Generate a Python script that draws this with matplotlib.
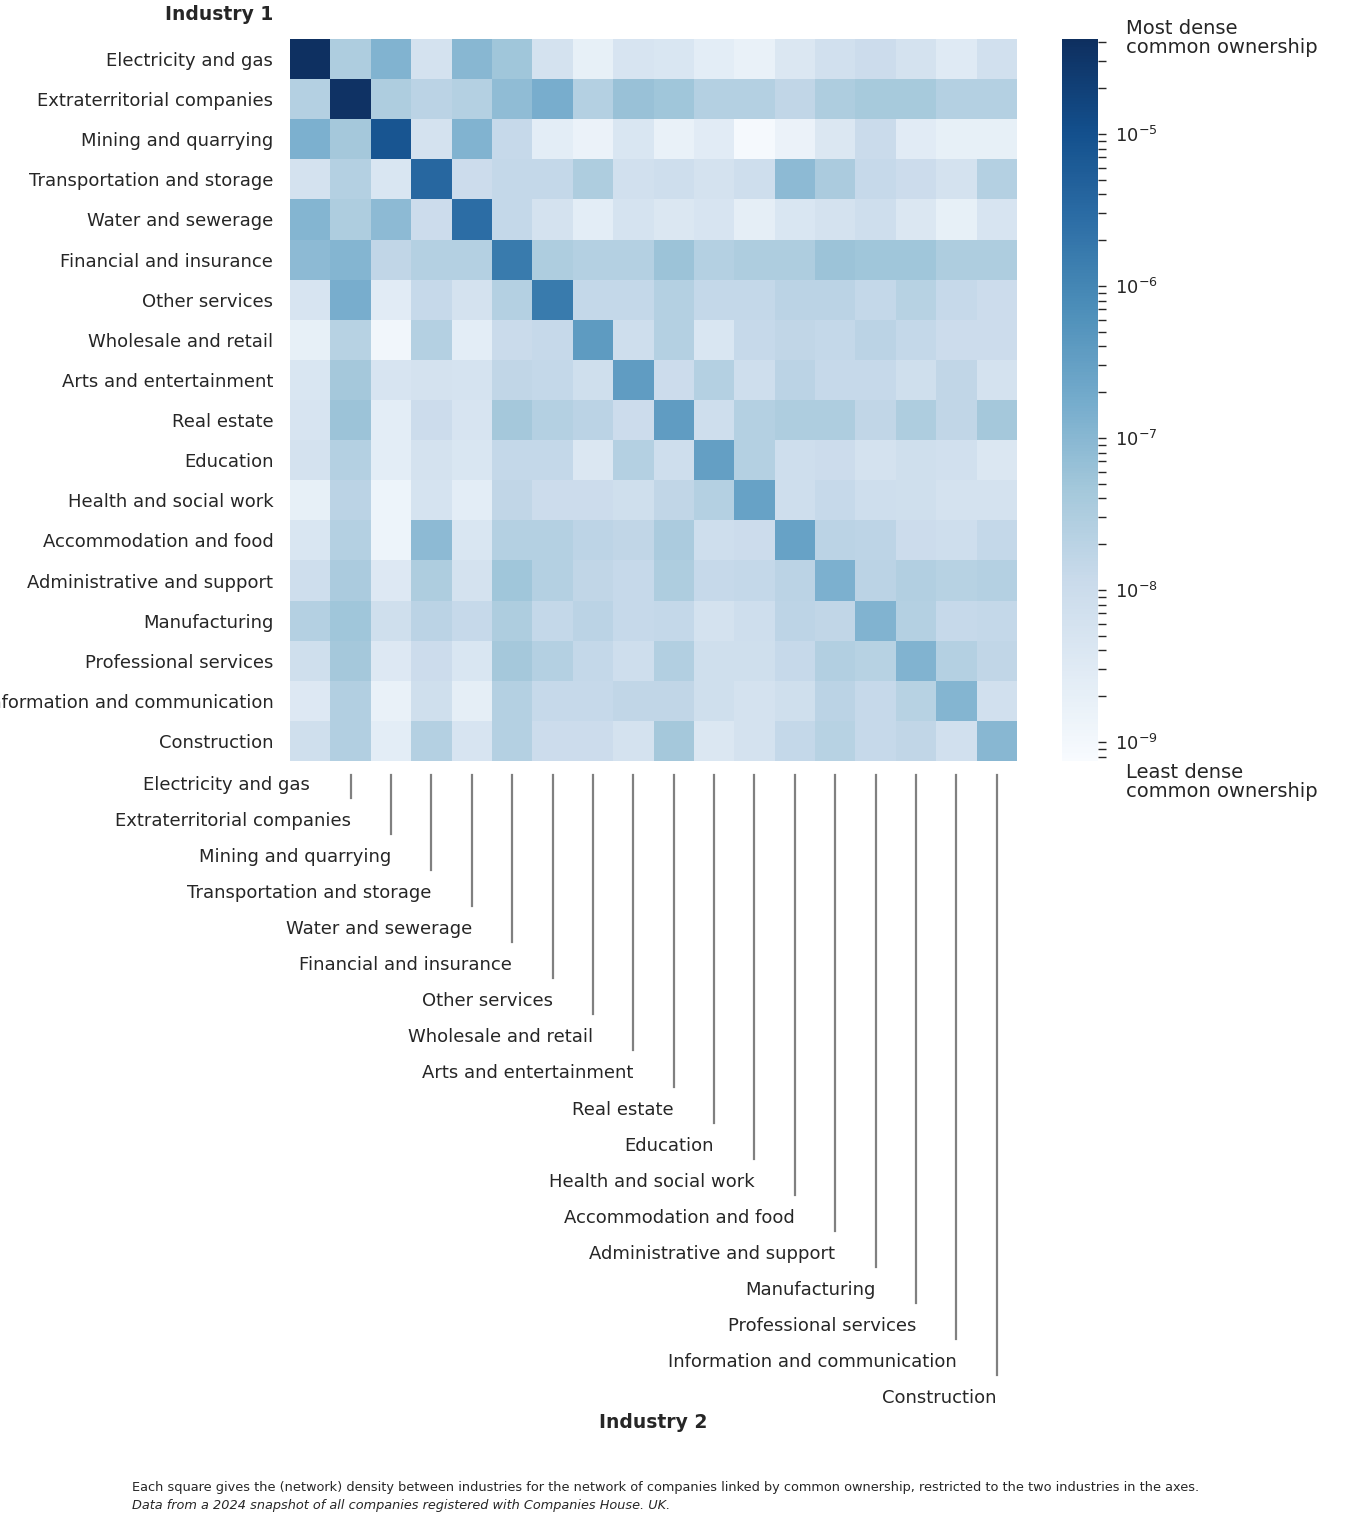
import numpy as np
import matplotlib.pyplot as plt
from matplotlib.colors import LogNorm, ListedColormap
from matplotlib.lines import Line2D
from matplotlib.transforms import blended_transform_factory

industries = [
    "Electricity and gas", "Extraterritorial companies", "Mining and quarrying",
    "Transportation and storage", "Water and sewerage", "Financial and insurance",
    "Other services", "Wholesale and retail", "Arts and entertainment",
    "Real estate", "Education", "Health and social work",
    "Accommodation and food", "Administrative and support", "Manufacturing",
    "Professional services", "Information and communication", "Construction",
]

log_density = [
    [-4.4, -7.5, -6.9, -8.2, -7.0, -7.3, -8.2, -8.7, -8.3, -8.35, -8.6, -8.75, -8.4, -8.15, -8.0, -8.2, -8.5, -8.15],
    [-7.6, -4.45, -7.5, -7.7, -7.6, -7.1, -6.8, -7.6, -7.2, -7.3, -7.6, -7.6, -7.8, -7.5, -7.4, -7.4, -7.6, -7.6],
    [-6.85, -7.35, -5.1, -8.2, -6.9, -7.9, -8.6, -8.8, -8.35, -8.75, -8.55, -9.05, -8.8, -8.4, -7.95, -8.55, -8.7, -8.7],
    [-8.2, -7.6, -8.35, -5.45, -8.0, -7.85, -7.85, -7.5, -8.15, -8.05, -8.2, -8.05, -7.05, -7.45, -7.9, -8.0, -8.2, -7.6],
    [-6.95, -7.5, -7.05, -8.0, -5.55, -7.85, -8.2, -8.6, -8.25, -8.4, -8.3, -8.65, -8.35, -8.2, -8.05, -8.4, -8.7, -8.3],
    [-7.05, -6.95, -7.8, -7.6, -7.6, -5.8, -7.5, -7.6, -7.6, -7.25, -7.6, -7.5, -7.5, -7.25, -7.3, -7.3, -7.5, -7.5],
    [-8.3, -6.8, -8.55, -7.9, -8.2, -7.6, -5.8, -7.85, -7.85, -7.6, -7.85, -7.85, -7.7, -7.7, -7.85, -7.65, -7.9, -8.0],
    [-8.7, -7.65, -8.95, -7.6, -8.6, -7.95, -7.9, -6.4, -8.05, -7.6, -8.35, -7.9, -7.8, -7.85, -7.7, -7.85, -8.0, -8.0],
    [-8.35, -7.35, -8.3, -8.2, -8.25, -7.8, -7.85, -8.1, -6.45, -8.0, -7.6, -8.05, -7.7, -7.9, -7.9, -8.1, -7.8, -8.2],
    [-8.3, -7.25, -8.6, -8.0, -8.3, -7.35, -7.6, -7.7, -8.0, -6.45, -8.05, -7.6, -7.5, -7.5, -7.8, -7.5, -7.8, -7.35],
    [-8.2, -7.6, -8.6, -8.2, -8.35, -7.85, -7.85, -8.4, -7.6, -8.05, -6.5, -7.6, -8.05, -8.0, -8.2, -8.1, -8.15, -8.4],
    [-8.7, -7.7, -8.85, -8.25, -8.6, -7.8, -8.0, -8.0, -8.1, -7.8, -7.6, -6.55, -8.05, -7.9, -8.05, -8.1, -8.2, -8.2],
    [-8.35, -7.6, -8.85, -7.05, -8.35, -7.6, -7.6, -7.75, -7.8, -7.45, -8.05, -8.0, -6.55, -7.7, -7.75, -8.0, -8.05, -7.85],
    [-8.05, -7.45, -8.45, -7.5, -8.2, -7.3, -7.6, -7.8, -7.9, -7.5, -7.9, -7.85, -7.7, -6.85, -7.7, -7.55, -7.65, -7.6],
    [-7.6, -7.3, -8.1, -7.7, -7.9, -7.5, -7.85, -7.7, -7.9, -7.85, -8.2, -8.05, -7.75, -7.8, -6.9, -7.6, -7.9, -7.85],
    [-8.1, -7.35, -8.45, -8.0, -8.35, -7.35, -7.6, -7.85, -8.05, -7.55, -8.1, -8.1, -7.9, -7.55, -7.65, -6.9, -7.6, -7.8],
    [-8.45, -7.55, -8.75, -8.1, -8.65, -7.6, -7.9, -7.9, -7.8, -7.8, -8.1, -8.2, -8.1, -7.7, -7.9, -7.65, -6.95, -8.15],
    [-8.1, -7.55, -8.6, -7.6, -8.3, -7.6, -8.0, -8.0, -8.2, -7.35, -8.4, -8.2, -7.85, -7.65, -7.9, -7.8, -8.15, -7.0],
]

VMIN = 7.5e-10
VMAX = 4.2e-5

TEXT = '0.15'
plt.rcParams['font.family'] = ['DejaVu Sans']
plt.rcParams['text.color'] = TEXT

# Blues, slightly muted like the original
base = plt.get_cmap('Blues')(np.linspace(0, 1, 256))[:, :3]
lum = (base @ np.array([0.3, 0.59, 0.11]))[:, None]
muted = np.clip(lum + 0.82 * (base - lum), 0, 1)
cmap = ListedColormap(muted)

W, H = 1362, 1530
fig = plt.figure(figsize=(W / 100, H / 100), dpi=100)

# heatmap and colorbar axes placed in pixel terms
ax = fig.add_axes([290 / W, 1 - 761 / H, 727 / W, 722 / H])
cax = fig.add_axes([1062 / W, 1 - 761 / H, 36 / W, 722 / H])

n = len(industries)
density = 10.0 ** np.array(log_density)
mesh = ax.pcolormesh(np.arange(n + 1), np.arange(n + 1), density,
                     cmap=cmap, norm=LogNorm(vmin=VMIN, vmax=VMAX))
ax.set_xlim(0, n)
ax.set_ylim(n, 0)
for s in ax.spines.values():
    s.set_visible(False)

ax.set_yticks(np.arange(n) + 0.5)
ax.set_yticklabels(industries, fontsize=13, color=TEXT)
ax.tick_params(axis='y', length=0, pad=12)
ax.set_xticks([])

# --- colorbar ---
cb = fig.colorbar(mesh, cax=cax)
cb.outline.set_visible(False)
cax.tick_params(which='both', length=6, width=1, color=TEXT, labelsize=13,
                labelcolor=TEXT, pad=6)

fig.text(1126 / W, 1 - 38 / H, "Most dense\ncommon ownership", fontsize=14,
         ha='left', va='center', linespacing=1.05)
fig.text(1126 / W, 1 - 782 / H, "Least dense\ncommon ownership", fontsize=14,
         ha='left', va='center', linespacing=1.05)

# --- staggered column labels with leader lines ---
trans = blended_transform_factory(ax.transData, fig.transFigure)
for i, name in enumerate(industries):
    y_pix = 785 + 36.06 * i
    fig.text(i + 0.5, 1 - y_pix / H, name, fontsize=13, ha='right', va='center',
             transform=trans)
    if i > 0:
        line = Line2D([i + 0.5, i + 0.5], [1 - 775 / H, 1 - (y_pix - 23) / H],
                      transform=trans, color='0.5', lw=1.6)
        fig.add_artist(line)

fig.text(273 / W, 1 - 15 / H, "Industry 1", fontsize=13.5, fontweight='bold',
         ha='right', va='center')
fig.text(653 / W, 1 - 1422 / H, "Industry 2", fontsize=13.5, fontweight='bold',
         ha='center', va='center')

fig.text(132 / W, 1 - 1488 / H,
         "Each square gives the (network) density between industries for the network of "
         "companies linked by common ownership, restricted to the two industries in the axes.",
         fontsize=9.25, ha='left', va='center')
fig.text(132 / W, 1 - 1506 / H,
         "Data from a 2024 snapshot of all companies registered with Companies House. UK.",
         fontsize=9.25, style='italic', ha='left', va='center')

fig.savefig('out.png', dpi=100)
